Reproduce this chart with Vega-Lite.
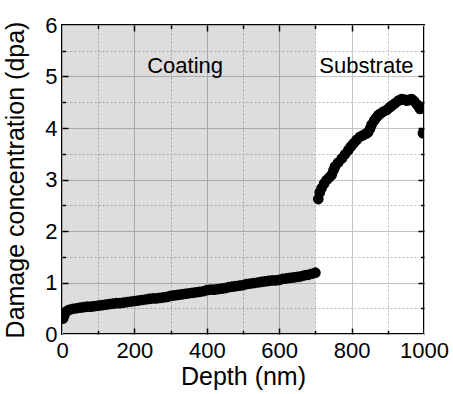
{
  "$schema": "https://vega.github.io/schema/vega-lite/v6.json",
  "width": 362,
  "height": 309,
  "autosize": {"type": "none"},
  "padding": {"left": 62, "top": 25, "right": 29, "bottom": 60},
  "background": "white",
  "config": {
    "view": {"stroke": "black", "strokeWidth": 2},
    "font": "Liberation Sans",
    "axis": {"labelFont": "Liberation Sans", "titleFont": "Liberation Sans", "labelColor": "black", "titleColor": "black", "titleFontWeight": "normal", "labelFlush": false, "labelOverlap": false, "domain": false, "tickColor": "black", "tickWidth": 1.5}
  },
  "datasets": {
    "pts": [
      {"depth": 3, "dpa": 0.30}, {"depth": 6, "dpa": 0.36}, {"depth": 10, "dpa": 0.42}, {"depth": 15, "dpa": 0.45},
      {"depth": 20, "dpa": 0.47}, {"depth": 30, "dpa": 0.49}, {"depth": 40, "dpa": 0.50}, {"depth": 50, "dpa": 0.51},
      {"depth": 60, "dpa": 0.52}, {"depth": 70, "dpa": 0.53}, {"depth": 80, "dpa": 0.53}, {"depth": 90, "dpa": 0.54},
      {"depth": 100, "dpa": 0.55}, {"depth": 110, "dpa": 0.56}, {"depth": 120, "dpa": 0.57}, {"depth": 130, "dpa": 0.58},
      {"depth": 140, "dpa": 0.59}, {"depth": 150, "dpa": 0.60}, {"depth": 160, "dpa": 0.60}, {"depth": 170, "dpa": 0.61},
      {"depth": 180, "dpa": 0.62}, {"depth": 190, "dpa": 0.63}, {"depth": 200, "dpa": 0.64}, {"depth": 210, "dpa": 0.65},
      {"depth": 220, "dpa": 0.66}, {"depth": 230, "dpa": 0.67}, {"depth": 240, "dpa": 0.68}, {"depth": 250, "dpa": 0.69},
      {"depth": 260, "dpa": 0.69}, {"depth": 270, "dpa": 0.70}, {"depth": 280, "dpa": 0.71}, {"depth": 290, "dpa": 0.72},
      {"depth": 300, "dpa": 0.74}, {"depth": 310, "dpa": 0.75}, {"depth": 320, "dpa": 0.76}, {"depth": 330, "dpa": 0.77},
      {"depth": 340, "dpa": 0.78}, {"depth": 350, "dpa": 0.79}, {"depth": 360, "dpa": 0.80}, {"depth": 370, "dpa": 0.81},
      {"depth": 380, "dpa": 0.82}, {"depth": 390, "dpa": 0.83}, {"depth": 400, "dpa": 0.85}, {"depth": 410, "dpa": 0.86},
      {"depth": 420, "dpa": 0.86}, {"depth": 430, "dpa": 0.87}, {"depth": 440, "dpa": 0.88}, {"depth": 450, "dpa": 0.89},
      {"depth": 460, "dpa": 0.91}, {"depth": 470, "dpa": 0.92}, {"depth": 480, "dpa": 0.93}, {"depth": 490, "dpa": 0.94},
      {"depth": 500, "dpa": 0.95}, {"depth": 510, "dpa": 0.97}, {"depth": 520, "dpa": 0.98}, {"depth": 530, "dpa": 0.99},
      {"depth": 540, "dpa": 1.00}, {"depth": 550, "dpa": 1.01}, {"depth": 560, "dpa": 1.02}, {"depth": 570, "dpa": 1.03},
      {"depth": 580, "dpa": 1.04}, {"depth": 590, "dpa": 1.04}, {"depth": 600, "dpa": 1.05}, {"depth": 610, "dpa": 1.07},
      {"depth": 620, "dpa": 1.08}, {"depth": 630, "dpa": 1.09}, {"depth": 640, "dpa": 1.10}, {"depth": 650, "dpa": 1.11},
      {"depth": 660, "dpa": 1.12}, {"depth": 670, "dpa": 1.14}, {"depth": 680, "dpa": 1.15}, {"depth": 690, "dpa": 1.17},
      {"depth": 700, "dpa": 1.19},
      {"depth": 708, "dpa": 2.62}, {"depth": 712, "dpa": 2.75}, {"depth": 717, "dpa": 2.83}, {"depth": 724, "dpa": 2.92},
      {"depth": 731, "dpa": 2.99}, {"depth": 738, "dpa": 3.04}, {"depth": 745, "dpa": 3.09}, {"depth": 750, "dpa": 3.18},
      {"depth": 754, "dpa": 3.25}, {"depth": 763, "dpa": 3.33}, {"depth": 773, "dpa": 3.41}, {"depth": 782, "dpa": 3.49},
      {"depth": 791, "dpa": 3.57}, {"depth": 798, "dpa": 3.64}, {"depth": 805, "dpa": 3.70}, {"depth": 814, "dpa": 3.77},
      {"depth": 823, "dpa": 3.83}, {"depth": 832, "dpa": 3.86}, {"depth": 840, "dpa": 3.89}, {"depth": 846, "dpa": 3.92},
      {"depth": 851, "dpa": 3.99}, {"depth": 855, "dpa": 4.06}, {"depth": 862, "dpa": 4.14}, {"depth": 868, "dpa": 4.20},
      {"depth": 874, "dpa": 4.25}, {"depth": 880, "dpa": 4.28}, {"depth": 888, "dpa": 4.32}, {"depth": 897, "dpa": 4.35},
      {"depth": 905, "dpa": 4.40}, {"depth": 912, "dpa": 4.44}, {"depth": 920, "dpa": 4.48}, {"depth": 929, "dpa": 4.53},
      {"depth": 938, "dpa": 4.56}, {"depth": 946, "dpa": 4.55}, {"depth": 953, "dpa": 4.53}, {"depth": 960, "dpa": 4.55},
      {"depth": 966, "dpa": 4.56}, {"depth": 973, "dpa": 4.52}, {"depth": 980, "dpa": 4.46}, {"depth": 985, "dpa": 4.42},
      {"depth": 989, "dpa": 4.37}, {"depth": 997, "dpa": 3.90}
    ],
    "regions": [
      {"region": "Coating", "x0": 0, "x1": 700, "y0": 0, "y1": 6, "tx": 340, "ty": 5.07, "shaded": true},
      {"region": "Substrate", "x0": 700, "x1": 1000, "y0": 0, "y1": 6, "tx": 841, "ty": 5.07, "shaded": false}
    ]
  },
  "resolve": {"axis": {"x": "independent", "y": "independent"}},
  "layer": [
    {
      "data": {"name": "regions"},
      "transform": [{"filter": "datum.shaded"}],
      "mark": {"type": "rect", "fill": "black", "fillOpacity": 0.135, "stroke": null},
      "encoding": {
        "x": {"field": "x0", "type": "quantitative", "scale": {"domain": [0, 1000], "nice": false, "zero": false},
          "axis": {"orient": "bottom", "values": [0, 200, 400, 600, 800, 1000], "format": "d", "ticks": false, "labelFontSize": 22, "labelPadding": 6, "title": "Depth (nm)", "titleFontSize": 25, "titlePadding": 3, "grid": true, "gridColor": "#c4c4c4", "gridWidth": 1}},
        "x2": {"field": "x1"},
        "y": {"field": "y0", "type": "quantitative", "scale": {"domain": [0, 6], "nice": false, "zero": false},
          "axis": {"orient": "left", "values": [0, 1, 2, 3, 4, 5, 6], "format": "d", "ticks": false, "labelFontSize": 22, "labelPadding": 5, "title": "Damage concentration (dpa)", "titleFontSize": 25, "titlePadding": 16, "grid": true, "gridColor": "#c4c4c4", "gridWidth": 1}},
        "y2": {"field": "y1"}
      }
    },
    {
      "data": {"name": "pts"},
      "mark": {"type": "circle", "color": "black", "opacity": 1, "size": 115, "clip": true},
      "encoding": {
        "x": {"field": "depth", "type": "quantitative",
          "axis": {"orient": "bottom", "values": [100, 300, 500, 700, 900], "labels": false, "title": null, "tickSize": -3.5, "grid": true, "gridColor": "#bdbdbd", "gridDash": [2, 2], "gridWidth": 1}},
        "y": {"field": "dpa", "type": "quantitative",
          "axis": {"orient": "left", "values": [0.5, 1.5, 2.5, 3.5, 4.5, 5.5], "labels": false, "title": null, "tickSize": -3.5, "grid": true, "gridColor": "#bdbdbd", "gridDash": [2, 2], "gridWidth": 1}}
      }
    },
    {
      "data": {"name": "regions"},
      "mark": {"type": "text", "fontSize": 22, "font": "Liberation Sans", "color": "black", "align": "center", "baseline": "alphabetic"},
      "encoding": {
        "x": {"field": "tx", "type": "quantitative",
          "axis": {"orient": "bottom", "values": [200, 400, 600, 800], "labels": false, "title": null, "tickSize": -6, "grid": false}},
        "y": {"field": "ty", "type": "quantitative",
          "axis": {"orient": "left", "values": [1, 2, 3, 4, 5], "labels": false, "title": null, "tickSize": -6, "grid": false}},
        "text": {"field": "region"}
      }
    },
    {
      "data": {"name": "regions"},
      "mark": {"type": "text", "opacity": 0},
      "encoding": {
        "x": {"field": "tx", "type": "quantitative",
          "axis": {"orient": "top", "values": [200, 400, 600, 800], "labels": false, "title": null, "tickSize": -6, "grid": false}},
        "y": {"field": "ty", "type": "quantitative",
          "axis": {"orient": "right", "values": [1, 2, 3, 4, 5], "labels": false, "title": null, "tickSize": -6, "grid": false}},
        "text": {"field": "region"}
      }
    },
    {
      "data": {"name": "regions"},
      "mark": {"type": "text", "opacity": 0},
      "encoding": {
        "x": {"field": "tx", "type": "quantitative",
          "axis": {"orient": "top", "values": [100, 300, 500, 700, 900], "labels": false, "title": null, "tickSize": -3.5, "grid": false}},
        "y": {"field": "ty", "type": "quantitative",
          "axis": {"orient": "right", "values": [0.5, 1.5, 2.5, 3.5, 4.5, 5.5], "labels": false, "title": null, "tickSize": -3.5, "grid": false}},
        "text": {"field": "region"}
      }
    }
  ]
}
